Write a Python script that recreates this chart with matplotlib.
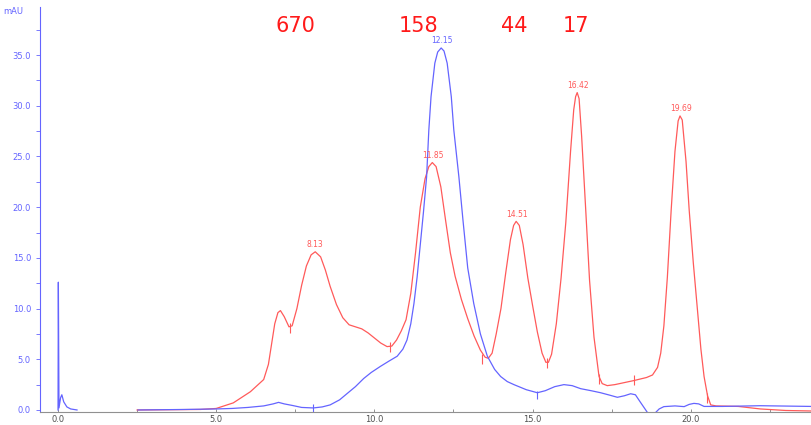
import numpy as np
import matplotlib
matplotlib.use('Agg')
import matplotlib.pyplot as plt
from matplotlib.ticker import MultipleLocator, FormatStrFormatter

# red trace (standards), time in min, absorbance in mAU
red_t = [2.5, 4.5, 5.0, 5.54, 6.08, 6.5, 6.65, 6.75, 6.85, 6.95, 7.03, 7.15, 7.3, 7.4,
         7.55, 7.7, 7.85, 8.0, 8.13, 8.3, 8.45, 8.6, 8.8, 9.0, 9.2, 9.4, 9.6, 9.8,
         10.0, 10.2, 10.4, 10.55, 10.7, 10.85, 11.0, 11.15, 11.3, 11.45, 11.6, 11.72,
         11.83, 11.95, 12.1, 12.25, 12.4, 12.55, 12.75, 12.95, 13.15, 13.35, 13.5, 13.6,
         13.72, 13.85, 14.0, 14.15, 14.3, 14.4, 14.48, 14.58, 14.7, 14.85, 15.0, 15.15,
         15.3, 15.42, 15.5, 15.6, 15.75, 15.9, 16.05, 16.2, 16.3, 16.36, 16.41, 16.47,
         16.55, 16.68, 16.8, 16.94, 17.1, 17.2, 17.36, 17.6, 18.2, 18.6, 18.79, 18.95, 19.05,
         19.15, 19.26, 19.38, 19.5, 19.6, 19.66, 19.73, 19.85, 19.95, 20.08, 20.21, 20.32,
         20.42, 20.53, 20.63, 20.8, 21.5, 22.2, 23.0, 23.8]
red_v = [0.0, 0.05, 0.15, 0.7, 1.8, 3.0, 4.5, 6.5, 8.5, 9.6, 9.8, 9.2, 8.2, 8.3,
         10.0, 12.3, 14.2, 15.3, 15.6, 15.1, 13.8, 12.2, 10.4, 9.1, 8.4, 8.2, 8.0, 7.6,
         7.1, 6.6, 6.25, 6.3, 6.9, 7.8, 8.9, 11.5, 15.5, 20.0, 22.8, 24.0,
         24.4, 24.0, 22.0, 18.7, 15.5, 13.2, 10.9, 9.0, 7.3, 5.9, 5.2, 5.1,
         5.6, 7.5, 10.0, 13.5, 16.8, 18.2, 18.6, 18.2, 16.3, 13.0, 10.3, 7.7,
         5.6, 4.7, 4.7, 5.5, 8.5, 13.0, 18.5, 25.5, 29.6, 30.9, 31.3, 30.7,
         27.0, 19.7, 12.8, 7.2, 3.3, 2.6, 2.4, 2.5, 2.9, 3.2, 3.45, 4.2, 5.6,
         8.3, 13.1, 19.7, 25.5, 28.5, 29.0, 28.6, 24.5, 19.7, 14.5, 9.9, 6.0,
         3.3, 1.4, 0.5, 0.4, 0.35, 0.1, -0.05, -0.1]

# blue trace (sample): injection spike, then the run
blue_spike_t = [0.0, 0.01, 0.03, 0.08, 0.12, 0.18, 0.28, 0.4, 0.6]
blue_spike_v = [0.0, 12.6, 0.2, 1.2, 1.5, 0.8, 0.3, 0.1, 0.0]
blue_t = [2.53, 4.0, 5.0, 5.5, 6.0, 6.5, 6.8, 6.97, 7.15, 7.4, 7.7, 8.07, 8.35, 8.6,
          8.9, 9.13, 9.4, 9.66, 9.9, 10.19, 10.45, 10.72, 10.9, 11.03, 11.15, 11.25,
          11.35, 11.45, 11.55, 11.65, 11.72, 11.79, 11.91, 12.0, 12.11, 12.2, 12.3,
          12.43, 12.51, 12.67, 12.8, 12.95, 13.14, 13.35, 13.57, 13.8, 13.99, 14.2,
          14.41, 14.8, 15.15, 15.4, 15.7, 15.99, 16.25, 16.52, 16.85, 17.15, 17.45,
          17.68, 17.9, 18.1, 18.25, 18.4, 18.63, 18.84, 19.0, 19.15, 19.5, 19.79,
          19.95, 20.1, 20.25, 20.42, 21.0, 22.2, 23.8]
blue_v = [0.0, 0.05, 0.1, 0.15, 0.25, 0.4, 0.6, 0.75, 0.6, 0.45, 0.25, 0.2, 0.3, 0.5,
          1.0, 1.6, 2.3, 3.1, 3.7, 4.3, 4.8, 5.3, 6.0, 6.9, 8.5, 10.5,
          13.1, 16.3, 19.5, 23.0, 27.6, 30.9, 34.2, 35.3, 35.7, 35.4, 34.2,
          30.9, 27.6, 23.0, 18.7, 14.0, 10.5, 7.5, 5.3, 4.0, 3.3, 2.8,
          2.5, 2.0, 1.7, 1.9, 2.3, 2.5, 2.4, 2.1, 1.9, 1.7, 1.45,
          1.25, 1.4, 1.6, 1.5, 0.8, -0.25, -0.4, 0.1, 0.33, 0.4, 0.33,
          0.55, 0.65, 0.6, 0.35, 0.35, 0.42, 0.35]

# peak apex labels
red_peaks = [8.13, 11.85, 14.51, 16.42, 19.69]
red_peak_h = [15.6, 24.4, 18.6, 31.3, 29.0]
blue_peaks = [12.15]
blue_peak_h = [35.7]

# integration marks
red_marks_t = [7.34, 10.5, 13.4, 15.46, 17.1, 18.2, 20.5]
red_marks_v = [8.1, 6.2, 5.0, 4.6, 3.1, 3.0, 1.2]
blue_marks_t = [8.07, 15.15]
blue_marks_v = [0.2, 1.5]

# molecular weight standards (kDa) written above the peaks
mw_labels = ['670', '158', '44', '17']
mw_pos = [7.5, 11.39, 14.43, 16.36]

RED = '#ff5a5a'
BLUE = '#6464ff'

fig = plt.figure(figsize=(8.11, 4.25), dpi=100)
ax = fig.add_axes([40 / 811, 13 / 425, 771 / 811, 405 / 425])

ax.plot(red_t, red_v, color=RED, lw=0.9)
ax.plot(blue_spike_t, blue_spike_v, color=BLUE, lw=0.9)
ax.plot(blue_t, blue_v, color=BLUE, lw=0.9)

ax.plot(red_marks_t, red_marks_v, ls='none', marker='|', ms=7, mew=0.8, color=RED)
ax.plot(blue_marks_t, blue_marks_v, ls='none', marker='|', ms=6, mew=0.8, color=BLUE)

for t, h in zip(red_peaks, red_peak_h):
    ax.text(t, h + 0.25, f'{t:.2f}', color=RED, fontsize=5.5, ha='center', va='bottom')
for t, h in zip(blue_peaks, blue_peak_h):
    ax.text(t, h + 0.25, f'{t:.2f}', color=BLUE, fontsize=5.5, ha='center', va='bottom')

for lab, t in zip(mw_labels, mw_pos):
    ax.text(t, 37.9, lab, color='#ff1a1a', fontsize=15, ha='center', va='center')

ax.text(-0.035, 0.99, 'mAU', transform=ax.transAxes, color=BLUE, fontsize=6,
        ha='center', va='center')

ax.set_xlim(-0.57, 23.8)
ax.set_ylim(-0.2, 39.74)

for s in ['top', 'right']:
    ax.spines[s].set_visible(False)
ax.spines['left'].set_color(BLUE)
ax.spines['bottom'].set_color('#909090')

ax.yaxis.set_major_locator(MultipleLocator(5))
ax.yaxis.set_minor_locator(MultipleLocator(2.5))
ax.yaxis.set_major_formatter(FormatStrFormatter('%.1f'))
ax.tick_params(axis='y', which='both', colors=BLUE, labelsize=6, length=3, width=0.6)
ax.set_yticks([0, 5, 10, 15, 20, 25, 30, 35])

ax.xaxis.set_major_locator(MultipleLocator(5))
ax.xaxis.set_minor_locator(MultipleLocator(2.5))
ax.xaxis.set_major_formatter(FormatStrFormatter('%.1f'))
ax.tick_params(axis='x', which='both', colors='#808080', labelsize=6, length=2,
               width=0.6, direction='in', pad=2)
ax.tick_params(axis='x', labelcolor='#505050')

fig.savefig('out.png', dpi=100)
